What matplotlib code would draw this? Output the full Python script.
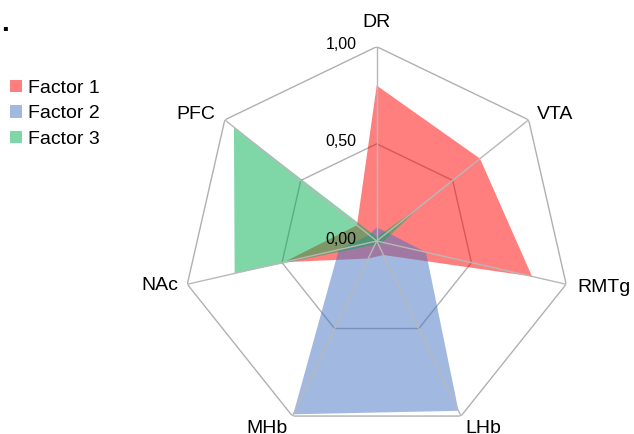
import numpy as np
import matplotlib
matplotlib.use("Agg")
import matplotlib.pyplot as plt
from matplotlib.patches import Patch

plt.rcParams['font.family'] = ['Liberation Sans', 'DejaVu Sans']

regions = ['DR', 'VTA', 'RMTg', 'LHb', 'MHb', 'NAc', 'PFC']
factor1 = [0.80, 0.68, 0.82, 0.08, 0.10, 0.49, 0.13]
factor2 = [0.07, 0.07, 0.26, 0.97, 0.99, 0.20, 0.05]
factor3 = [0.02, 0.30, 0.03, 0.02, 0.02, 0.75, 0.94]
series_names = ['Factor 1', 'Factor 2', 'Factor 3']
ring_values = [0.0, 0.5, 1.0]
ring_labels = ['0,00', '0,50', '1,00']

colors = ['#ff0000', '#4472c4', '#00b050']

fig = plt.figure(figsize=(6.34, 4.34), dpi=100)
ax = fig.add_axes([0.2877, -0.003, 0.613, 0.8954], projection='polar')
ax.set_theta_zero_location('N')
ax.set_theta_direction(-1)
ax.set_ylim(0, 1)
ax.set_xticks([])
ax.set_yticks([])
ax.grid(False)
ax.spines['polar'].set_visible(False)
ax.patch.set_alpha(0)

angles = np.linspace(0, 2 * np.pi, len(regions), endpoint=False)
closed = np.append(angles, angles[0])

# heptagon rings under the fills
for r in ring_values[1:]:
    ax.plot(closed, [r] * len(closed), color='#b0b0b0', lw=1.0, zorder=1)

for vals, c in zip([factor1, factor2, factor3], colors):
    v = np.append(vals, vals[0])
    ax.fill(closed, v, color=c, alpha=0.5, lw=0, zorder=2)

# spokes on top
for a in angles:
    ax.plot([a, a], [0, 1], color='#b8b8b8', lw=1.0, zorder=3)

offsets = {
    'DR': ((0, 24), 'center', 'center'),
    'VTA': ((8, 5), 'left', 'center'),
    'RMTg': ((11, -3), 'left', 'center'),
    'LHb': ((4, -12), 'left', 'center'),
    'MHb': ((-5, -12), 'right', 'center'),
    'NAc': ((-9, -1), 'right', 'center'),
    'PFC': ((-10, 5), 'right', 'center'),
}
for a, name in zip(angles, regions):
    off, ha, va = offsets[name]
    ax.annotate(name, xy=(a, 1.0), xytext=off, textcoords='offset pixels',
                ha=ha, va=va, fontsize=14, color='black', annotation_clip=False)

for r, lab in zip(ring_values, ring_labels):
    ax.annotate(lab, xy=(0, r), xytext=(-20, 2), textcoords='offset pixels',
                ha='right', va='center', fontsize=11.5, color='black',
                annotation_clip=False)

handles = [Patch(facecolor=c, alpha=0.5, edgecolor='none') for c in colors]
fig.legend(handles, series_names, loc='upper left', bbox_to_anchor=(-0.005, 0.847),
           frameon=False, fontsize=14, handlelength=0.6, handleheight=0.6,
           handletextpad=0.3, labelspacing=0.43, borderpad=0.2)

fig.text(0.002, 0.945, '.', fontsize=20, fontweight='bold', ha='left', va='center')

fig.savefig('out.png', dpi=100)
